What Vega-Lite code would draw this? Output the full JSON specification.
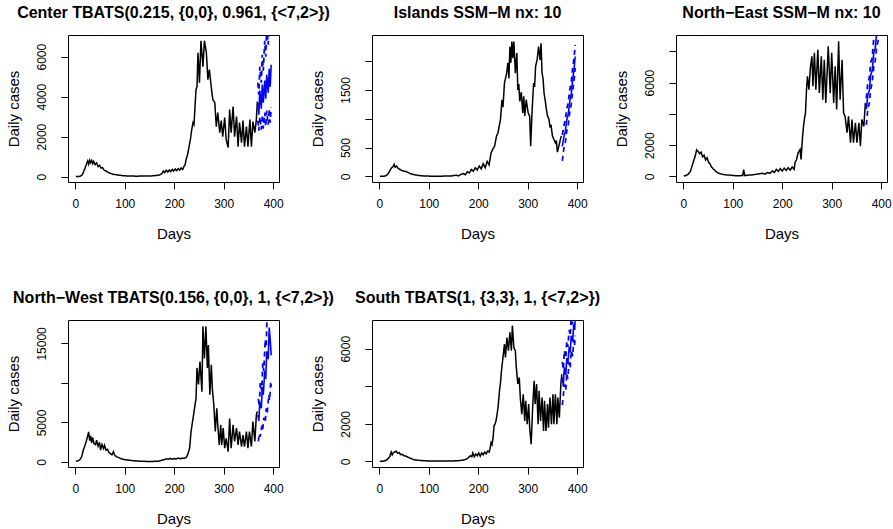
{
"$schema": "https://vega.github.io/schema/vega-lite/v6.json",
"padding": {"left": 5, "top": 4, "right": 0, "bottom": 0},
"columns": 3,
"spacing": {"row": 138, "column": 93},
"bounds": "flush",
"concat": [
{
"title": "Center TBATS(0.215, {0,0}, 0.961, {<7,2>})",
"width": 211, "height": 147,
"data": {"values": [
{"d":1,"v":0,"s":"o"},{"d":6,"v":5,"s":"o"},{"d":10,"v":20,"s":"o"},{"d":14,"v":90,"s":"o"},{"d":17,"v":250,"s":"o"},{"d":20,"v":450,"s":"o"},{"d":23,"v":650,"s":"o"},{"d":25,"v":780,"s":"o"},{"d":27,"v":620,"s":"o"},{"d":29,"v":820,"s":"o"},{"d":31,"v":700,"s":"o"},{"d":33,"v":800,"s":"o"},{"d":35,"v":650,"s":"o"},{"d":37,"v":760,"s":"o"},{"d":40,"v":600,"s":"o"},{"d":43,"v":680,"s":"o"},{"d":46,"v":500,"s":"o"},{"d":49,"v":560,"s":"o"},{"d":52,"v":420,"s":"o"},{"d":55,"v":450,"s":"o"},{"d":58,"v":330,"s":"o"},{"d":62,"v":280,"s":"o"},{"d":66,"v":220,"s":"o"},{"d":70,"v":170,"s":"o"},{"d":75,"v":130,"s":"o"},{"d":80,"v":100,"s":"o"},{"d":88,"v":70,"s":"o"},{"d":96,"v":45,"s":"o"},{"d":105,"v":30,"s":"o"},{"d":115,"v":25,"s":"o"},{"d":125,"v":20,"s":"o"},{"d":135,"v":25,"s":"o"},{"d":145,"v":30,"s":"o"},{"d":155,"v":35,"s":"o"},{"d":163,"v":50,"s":"o"},{"d":170,"v":80,"s":"o"},{"d":175,"v":150,"s":"o"},{"d":178,"v":280,"s":"o"},{"d":181,"v":200,"s":"o"},{"d":184,"v":320,"s":"o"},{"d":187,"v":230,"s":"o"},{"d":190,"v":330,"s":"o"},{"d":193,"v":250,"s":"o"},{"d":196,"v":360,"s":"o"},{"d":199,"v":280,"s":"o"},{"d":202,"v":380,"s":"o"},{"d":205,"v":300,"s":"o"},{"d":208,"v":400,"s":"o"},{"d":211,"v":320,"s":"o"},{"d":214,"v":430,"s":"o"},{"d":217,"v":360,"s":"o"},{"d":220,"v":520,"s":"o"},{"d":222,"v":600,"s":"o"},{"d":224,"v":850,"s":"o"},{"d":227,"v":1100,"s":"o"},{"d":230,"v":1500,"s":"o"},{"d":233,"v":1900,"s":"o"},{"d":235,"v":2300,"s":"o"},{"d":238,"v":2700,"s":"o"},{"d":240,"v":2600,"s":"o"},{"d":242,"v":3500,"s":"o"},{"d":244,"v":4350,"s":"o"},{"d":246,"v":4500,"s":"o"},{"d":248,"v":6200,"s":"o"},{"d":251,"v":4700,"s":"o"},{"d":254,"v":6800,"s":"o"},{"d":258,"v":5500,"s":"o"},{"d":261,"v":6800,"s":"o"},{"d":265,"v":6200,"s":"o"},{"d":268,"v":4850,"s":"o"},{"d":271,"v":5350,"s":"o"},{"d":275,"v":4450,"s":"o"},{"d":278,"v":3850,"s":"o"},{"d":282,"v":3700,"s":"o"},{"d":285,"v":2500,"s":"o"},{"d":288,"v":3200,"s":"o"},{"d":292,"v":2200,"s":"o"},{"d":295,"v":2800,"s":"o"},{"d":298,"v":2000,"s":"o"},{"d":302,"v":2950,"s":"o"},{"d":305,"v":1850,"s":"o"},{"d":309,"v":1450,"s":"o"},{"d":312,"v":3350,"s":"o"},{"d":315,"v":2200,"s":"o"},{"d":319,"v":3500,"s":"o"},{"d":322,"v":2000,"s":"o"},{"d":326,"v":3000,"s":"o"},{"d":329,"v":1500,"s":"o"},{"d":332,"v":2700,"s":"o"},{"d":336,"v":1700,"s":"o"},{"d":339,"v":2800,"s":"o"},{"d":342,"v":1500,"s":"o"},{"d":346,"v":2500,"s":"o"},{"d":349,"v":1500,"s":"o"},{"d":353,"v":2850,"s":"o"},{"d":356,"v":1500,"s":"o"},{"d":359,"v":2750,"s":"o"},{"d":363,"v":2200,"s":"o"},{"d":366,"v":2850,"s":"o"},{"d":368,"v":3750,"s":"o"},
{"d":369,"v":3700,"s":"m"},{"d":371,"v":3100,"s":"m"},{"d":373,"v":4300,"s":"m"},{"d":376,"v":3400,"s":"m"},{"d":378,"v":4600,"s":"m"},{"d":380,"v":3700,"s":"m"},{"d":383,"v":4800,"s":"m"},{"d":385,"v":3900,"s":"m"},{"d":387,"v":5100,"s":"m"},{"d":390,"v":4200,"s":"m"},{"d":392,"v":5400,"s":"m"},{"d":394,"v":4500,"s":"m"},{"d":396,"v":5600,"s":"m"},
{"d":369,"v":2800,"s":"l"},{"d":371,"v":2300,"s":"l"},{"d":373,"v":3000,"s":"l"},{"d":376,"v":2350,"s":"l"},{"d":378,"v":3100,"s":"l"},{"d":380,"v":2400,"s":"l"},{"d":383,"v":3200,"s":"l"},{"d":385,"v":2500,"s":"l"},{"d":387,"v":3300,"s":"l"},{"d":390,"v":2600,"s":"l"},{"d":392,"v":3400,"s":"l"},{"d":394,"v":2700,"s":"l"},{"d":396,"v":3450,"s":"l"},
{"d":369,"v":4700,"s":"u"},{"d":371,"v":4100,"s":"u"},{"d":373,"v":5500,"s":"u"},{"d":376,"v":4700,"s":"u"},{"d":378,"v":6100,"s":"u"},{"d":380,"v":5300,"s":"u"},{"d":383,"v":6800,"s":"u"},{"d":385,"v":6000,"s":"u"},{"d":387,"v":7400,"s":"u"},{"d":390,"v":6600,"s":"u"},{"d":392,"v":8000,"s":"u"},{"d":394,"v":7200,"s":"u"},{"d":396,"v":8600,"s":"u"}
]},
"mark": {"type": "line", "clip": true},
"encoding": {
"x": {"field": "d", "type": "quantitative", "scale": {"domain": [-14.8, 411.8], "nice": false, "zero": false}, "axis": {"values": [0,100,200,300,400], "title": "Days"}},
"y": {"field": "v", "type": "quantitative", "scale": {"domain": [-272, 7085], "nice": false, "zero": false}, "axis": {"values": [0,2000,4000,6000], "title": "Daily cases"}},
"color": {"field": "s", "type": "nominal", "scale": {"domain": ["o","m","l","u"], "range": ["#000000","#0000ff","#0000ff","#0000ff"]}, "legend": null},
"strokeDash": {"field": "s", "type": "nominal", "scale": {"domain": ["o","m","l","u"], "range": [[1,0],[1,0],[5,4],[5,4]]}, "legend": null},
"strokeWidth": {"field": "s", "type": "nominal", "scale": {"domain": ["o","m","l","u"], "range": [1.5,1.8,1.8,1.8]}, "legend": null}
}
},
{
"title": "Islands SSM−M nx: 10",
"width": 211, "height": 147,
"data": {"values": [
{"d":1,"v":0,"s":"o"},{"d":8,"v":2,"s":"o"},{"d":14,"v":15,"s":"o"},{"d":18,"v":50,"s":"o"},{"d":22,"v":110,"s":"o"},{"d":25,"v":150,"s":"o"},{"d":28,"v":170,"s":"o"},{"d":30,"v":210,"s":"o"},{"d":32,"v":160,"s":"o"},{"d":35,"v":180,"s":"o"},{"d":38,"v":140,"s":"o"},{"d":42,"v":120,"s":"o"},{"d":46,"v":100,"s":"o"},{"d":50,"v":90,"s":"o"},{"d":54,"v":85,"s":"o"},{"d":58,"v":70,"s":"o"},{"d":63,"v":45,"s":"o"},{"d":70,"v":30,"s":"o"},{"d":80,"v":15,"s":"o"},{"d":90,"v":8,"s":"o"},{"d":100,"v":5,"s":"o"},{"d":115,"v":3,"s":"o"},{"d":130,"v":5,"s":"o"},{"d":145,"v":8,"s":"o"},{"d":155,"v":20,"s":"o"},{"d":160,"v":10,"s":"o"},{"d":165,"v":35,"s":"o"},{"d":170,"v":50,"s":"o"},{"d":174,"v":30,"s":"o"},{"d":178,"v":80,"s":"o"},{"d":182,"v":60,"s":"o"},{"d":186,"v":120,"s":"o"},{"d":190,"v":90,"s":"o"},{"d":194,"v":150,"s":"o"},{"d":198,"v":110,"s":"o"},{"d":202,"v":180,"s":"o"},{"d":206,"v":130,"s":"o"},{"d":210,"v":220,"s":"o"},{"d":214,"v":150,"s":"o"},{"d":218,"v":260,"s":"o"},{"d":222,"v":200,"s":"o"},{"d":226,"v":410,"s":"o"},{"d":230,"v":480,"s":"o"},{"d":233,"v":525,"s":"o"},{"d":237,"v":700,"s":"o"},{"d":240,"v":760,"s":"o"},{"d":243,"v":900,"s":"o"},{"d":245,"v":990,"s":"o"},{"d":248,"v":1330,"s":"o"},{"d":250,"v":1200,"s":"o"},{"d":253,"v":1620,"s":"o"},{"d":257,"v":1770,"s":"o"},{"d":260,"v":1970,"s":"o"},{"d":262,"v":1700,"s":"o"},{"d":264,"v":2250,"s":"o"},{"d":266,"v":1970,"s":"o"},{"d":268,"v":2340,"s":"o"},{"d":270,"v":2050,"s":"o"},{"d":272,"v":2340,"s":"o"},{"d":275,"v":1790,"s":"o"},{"d":278,"v":2140,"s":"o"},{"d":280,"v":1500,"s":"o"},{"d":282,"v":1600,"s":"o"},{"d":284,"v":1300,"s":"o"},{"d":287,"v":1460,"s":"o"},{"d":290,"v":1100,"s":"o"},{"d":292,"v":1390,"s":"o"},{"d":294,"v":1050,"s":"o"},{"d":297,"v":1330,"s":"o"},{"d":301,"v":1100,"s":"o"},{"d":304,"v":1040,"s":"o"},{"d":306,"v":525,"s":"o"},{"d":309,"v":1160,"s":"o"},{"d":312,"v":1620,"s":"o"},{"d":314,"v":1550,"s":"o"},{"d":316,"v":1910,"s":"o"},{"d":319,"v":2020,"s":"o"},{"d":322,"v":2250,"s":"o"},{"d":325,"v":2020,"s":"o"},{"d":327,"v":2310,"s":"o"},{"d":329,"v":1790,"s":"o"},{"d":331,"v":1700,"s":"o"},{"d":333,"v":1450,"s":"o"},{"d":336,"v":1280,"s":"o"},{"d":338,"v":1150,"s":"o"},{"d":340,"v":1050,"s":"o"},{"d":343,"v":990,"s":"o"},{"d":345,"v":850,"s":"o"},{"d":347,"v":900,"s":"o"},{"d":350,"v":700,"s":"o"},{"d":353,"v":640,"s":"o"},{"d":356,"v":580,"s":"o"},{"d":358,"v":620,"s":"o"},{"d":360,"v":420,"s":"o"},{"d":363,"v":525,"s":"o"},{"d":366,"v":640,"s":"o"},{"d":368,"v":700,"s":"o"},
{"d":370,"v":520,"s":"m"},{"d":373,"v":680,"s":"m"},{"d":376,"v":780,"s":"m"},{"d":379,"v":980,"s":"m"},{"d":382,"v":1080,"s":"m"},{"d":385,"v":1300,"s":"m"},{"d":388,"v":1430,"s":"m"},{"d":391,"v":1680,"s":"m"},{"d":394,"v":1880,"s":"m"},{"d":396,"v":2080,"s":"m"},
{"d":370,"v":270,"s":"l"},{"d":373,"v":480,"s":"l"},{"d":376,"v":580,"s":"l"},{"d":379,"v":790,"s":"l"},{"d":382,"v":890,"s":"l"},{"d":385,"v":1110,"s":"l"},{"d":388,"v":1240,"s":"l"},{"d":391,"v":1490,"s":"l"},{"d":394,"v":1680,"s":"l"},{"d":396,"v":1880,"s":"l"},
{"d":370,"v":720,"s":"u"},{"d":373,"v":870,"s":"u"},{"d":376,"v":980,"s":"u"},{"d":379,"v":1170,"s":"u"},{"d":382,"v":1280,"s":"u"},{"d":385,"v":1500,"s":"u"},{"d":388,"v":1630,"s":"u"},{"d":391,"v":1880,"s":"u"},{"d":394,"v":2080,"s":"u"},{"d":396,"v":2280,"s":"u"}
]},
"mark": {"type": "line", "clip": true},
"encoding": {
"x": {"field": "d", "type": "quantitative", "scale": {"domain": [-14.8, 411.8], "nice": false, "zero": false}, "axis": {"values": [0,100,200,300,400], "title": "Days"}},
"y": {"field": "v", "type": "quantitative", "scale": {"domain": [-97, 2452], "nice": false, "zero": false}, "axis": {"values": [0,500,1000,1500,2000], "title": "Daily cases", "labelExpr": "datum.value == 1000 || datum.value == 2000 ? '' : datum.label"}},
"color": {"field": "s", "type": "nominal", "scale": {"domain": ["o","m","l","u"], "range": ["#000000","#0000ff","#0000ff","#0000ff"]}, "legend": null},
"strokeDash": {"field": "s", "type": "nominal", "scale": {"domain": ["o","m","l","u"], "range": [[1,0],[1,0],[5,4],[5,4]]}, "legend": null},
"strokeWidth": {"field": "s", "type": "nominal", "scale": {"domain": ["o","m","l","u"], "range": [1.5,1.8,1.8,1.8]}, "legend": null}
}
},
{
"title": "North−East SSM−M nx: 10",
"width": 211, "height": 147,
"data": {"values": [
{"d":1,"v":30,"s":"o"},{"d":6,"v":60,"s":"o"},{"d":10,"v":150,"s":"o"},{"d":14,"v":300,"s":"o"},{"d":18,"v":700,"s":"o"},{"d":21,"v":1000,"s":"o"},{"d":24,"v":1300,"s":"o"},{"d":27,"v":1700,"s":"o"},{"d":30,"v":1600,"s":"o"},{"d":33,"v":1450,"s":"o"},{"d":36,"v":1550,"s":"o"},{"d":39,"v":1250,"s":"o"},{"d":42,"v":1350,"s":"o"},{"d":45,"v":1050,"s":"o"},{"d":48,"v":1200,"s":"o"},{"d":51,"v":900,"s":"o"},{"d":54,"v":800,"s":"o"},{"d":57,"v":600,"s":"o"},{"d":60,"v":500,"s":"o"},{"d":64,"v":380,"s":"o"},{"d":68,"v":260,"s":"o"},{"d":72,"v":200,"s":"o"},{"d":78,"v":140,"s":"o"},{"d":85,"v":100,"s":"o"},{"d":95,"v":80,"s":"o"},{"d":105,"v":50,"s":"o"},{"d":115,"v":40,"s":"o"},{"d":120,"v":60,"s":"o"},{"d":122,"v":430,"s":"o"},{"d":124,"v":50,"s":"o"},{"d":130,"v":80,"s":"o"},{"d":140,"v":100,"s":"o"},{"d":150,"v":150,"s":"o"},{"d":160,"v":200,"s":"o"},{"d":165,"v":150,"s":"o"},{"d":170,"v":250,"s":"o"},{"d":175,"v":200,"s":"o"},{"d":180,"v":350,"s":"o"},{"d":184,"v":250,"s":"o"},{"d":188,"v":450,"s":"o"},{"d":192,"v":320,"s":"o"},{"d":196,"v":500,"s":"o"},{"d":200,"v":350,"s":"o"},{"d":204,"v":520,"s":"o"},{"d":208,"v":380,"s":"o"},{"d":212,"v":560,"s":"o"},{"d":216,"v":400,"s":"o"},{"d":220,"v":600,"s":"o"},{"d":224,"v":450,"s":"o"},{"d":226,"v":900,"s":"o"},{"d":229,"v":1085,"s":"o"},{"d":232,"v":1500,"s":"o"},{"d":236,"v":1720,"s":"o"},{"d":238,"v":1085,"s":"o"},{"d":241,"v":2500,"s":"o"},{"d":243,"v":3200,"s":"o"},{"d":245,"v":3700,"s":"o"},{"d":247,"v":4060,"s":"o"},{"d":249,"v":5500,"s":"o"},{"d":251,"v":6400,"s":"o"},{"d":254,"v":5550,"s":"o"},{"d":257,"v":7000,"s":"o"},{"d":260,"v":7680,"s":"o"},{"d":262,"v":5770,"s":"o"},{"d":265,"v":7900,"s":"o"},{"d":268,"v":5550,"s":"o"},{"d":272,"v":8100,"s":"o"},{"d":275,"v":5340,"s":"o"},{"d":279,"v":7680,"s":"o"},{"d":282,"v":4900,"s":"o"},{"d":285,"v":7460,"s":"o"},{"d":288,"v":4700,"s":"o"},{"d":293,"v":8320,"s":"o"},{"d":297,"v":5340,"s":"o"},{"d":300,"v":7900,"s":"o"},{"d":304,"v":4700,"s":"o"},{"d":307,"v":7040,"s":"o"},{"d":310,"v":4280,"s":"o"},{"d":314,"v":8640,"s":"o"},{"d":317,"v":4900,"s":"o"},{"d":321,"v":7460,"s":"o"},{"d":324,"v":4060,"s":"o"},{"d":327,"v":3850,"s":"o"},{"d":331,"v":2790,"s":"o"},{"d":334,"v":3850,"s":"o"},{"d":338,"v":2150,"s":"o"},{"d":341,"v":3640,"s":"o"},{"d":344,"v":2150,"s":"o"},{"d":348,"v":3430,"s":"o"},{"d":351,"v":2150,"s":"o"},{"d":355,"v":3430,"s":"o"},{"d":358,"v":1940,"s":"o"},{"d":361,"v":3640,"s":"o"},{"d":365,"v":3200,"s":"o"},{"d":368,"v":4700,"s":"o"},
{"d":370,"v":4300,"s":"m"},{"d":373,"v":5200,"s":"m"},{"d":376,"v":5500,"s":"m"},{"d":379,"v":6500,"s":"m"},{"d":382,"v":6800,"s":"m"},{"d":385,"v":7900,"s":"m"},{"d":388,"v":8200,"s":"m"},{"d":391,"v":9200,"s":"m"},{"d":394,"v":9500,"s":"m"},{"d":396,"v":10200,"s":"m"},
{"d":370,"v":3300,"s":"l"},{"d":373,"v":4300,"s":"l"},{"d":376,"v":4700,"s":"l"},{"d":379,"v":5600,"s":"l"},{"d":382,"v":6000,"s":"l"},{"d":385,"v":7000,"s":"l"},{"d":388,"v":7400,"s":"l"},{"d":391,"v":8300,"s":"l"},{"d":394,"v":8700,"s":"l"},{"d":396,"v":9300,"s":"l"},
{"d":370,"v":5000,"s":"u"},{"d":373,"v":6000,"s":"u"},{"d":376,"v":6300,"s":"u"},{"d":379,"v":7300,"s":"u"},{"d":382,"v":7600,"s":"u"},{"d":385,"v":8800,"s":"u"},{"d":388,"v":9100,"s":"u"},{"d":391,"v":10200,"s":"u"},{"d":394,"v":10500,"s":"u"},{"d":396,"v":11200,"s":"u"}
]},
"mark": {"type": "line", "clip": true},
"encoding": {
"x": {"field": "d", "type": "quantitative", "scale": {"domain": [-14.8, 411.8], "nice": false, "zero": false}, "axis": {"values": [0,100,200,300,400], "title": "Days"}},
"y": {"field": "v", "type": "quantitative", "scale": {"domain": [-357, 9043], "nice": false, "zero": false}, "axis": {"values": [0,2000,4000,6000,8000], "title": "Daily cases", "labelExpr": "datum.value == 4000 || datum.value == 8000 ? '' : datum.label"}},
"color": {"field": "s", "type": "nominal", "scale": {"domain": ["o","m","l","u"], "range": ["#000000","#0000ff","#0000ff","#0000ff"]}, "legend": null},
"strokeDash": {"field": "s", "type": "nominal", "scale": {"domain": ["o","m","l","u"], "range": [[1,0],[1,0],[5,4],[5,4]]}, "legend": null},
"strokeWidth": {"field": "s", "type": "nominal", "scale": {"domain": ["o","m","l","u"], "range": [1.5,1.8,1.8,1.8]}, "legend": null}
}
},
{
"title": "North−West TBATS(0.156, {0,0}, 1, {<7,2>})",
"width": 211, "height": 147,
"data": {"values": [
{"d":1,"v":100,"s":"o"},{"d":6,"v":150,"s":"o"},{"d":10,"v":350,"s":"o"},{"d":13,"v":700,"s":"o"},{"d":16,"v":1500,"s":"o"},{"d":19,"v":2000,"s":"o"},{"d":22,"v":2600,"s":"o"},{"d":25,"v":3300,"s":"o"},{"d":27,"v":3800,"s":"o"},{"d":29,"v":2700,"s":"o"},{"d":31,"v":3300,"s":"o"},{"d":33,"v":2400,"s":"o"},{"d":35,"v":3100,"s":"o"},{"d":38,"v":2300,"s":"o"},{"d":41,"v":2200,"s":"o"},{"d":43,"v":2750,"s":"o"},{"d":46,"v":2000,"s":"o"},{"d":49,"v":2500,"s":"o"},{"d":51,"v":1500,"s":"o"},{"d":54,"v":2200,"s":"o"},{"d":57,"v":1700,"s":"o"},{"d":59,"v":2100,"s":"o"},{"d":62,"v":1500,"s":"o"},{"d":65,"v":1600,"s":"o"},{"d":68,"v":1200,"s":"o"},{"d":71,"v":1050,"s":"o"},{"d":74,"v":900,"s":"o"},{"d":77,"v":1300,"s":"o"},{"d":80,"v":800,"s":"o"},{"d":84,"v":650,"s":"o"},{"d":88,"v":550,"s":"o"},{"d":93,"v":400,"s":"o"},{"d":99,"v":300,"s":"o"},{"d":105,"v":250,"s":"o"},{"d":112,"v":200,"s":"o"},{"d":120,"v":150,"s":"o"},{"d":130,"v":100,"s":"o"},{"d":140,"v":80,"s":"o"},{"d":150,"v":60,"s":"o"},{"d":160,"v":80,"s":"o"},{"d":170,"v":120,"s":"o"},{"d":176,"v":250,"s":"o"},{"d":180,"v":300,"s":"o"},{"d":184,"v":400,"s":"o"},{"d":188,"v":350,"s":"o"},{"d":192,"v":450,"s":"o"},{"d":196,"v":350,"s":"o"},{"d":200,"v":450,"s":"o"},{"d":204,"v":380,"s":"o"},{"d":208,"v":500,"s":"o"},{"d":212,"v":400,"s":"o"},{"d":216,"v":500,"s":"o"},{"d":220,"v":450,"s":"o"},{"d":224,"v":550,"s":"o"},{"d":227,"v":900,"s":"o"},{"d":231,"v":1740,"s":"o"},{"d":234,"v":3850,"s":"o"},{"d":237,"v":5100,"s":"o"},{"d":241,"v":6800,"s":"o"},{"d":244,"v":8000,"s":"o"},{"d":246,"v":11900,"s":"o"},{"d":249,"v":9800,"s":"o"},{"d":252,"v":12700,"s":"o"},{"d":256,"v":8900,"s":"o"},{"d":258,"v":17150,"s":"o"},{"d":261,"v":13100,"s":"o"},{"d":264,"v":17150,"s":"o"},{"d":267,"v":11900,"s":"o"},{"d":269,"v":14800,"s":"o"},{"d":272,"v":8500,"s":"o"},{"d":275,"v":12300,"s":"o"},{"d":277,"v":9300,"s":"o"},{"d":280,"v":7200,"s":"o"},{"d":283,"v":3850,"s":"o"},{"d":286,"v":6800,"s":"o"},{"d":288,"v":4700,"s":"o"},{"d":291,"v":2160,"s":"o"},{"d":294,"v":4700,"s":"o"},{"d":296,"v":2160,"s":"o"},{"d":299,"v":4300,"s":"o"},{"d":302,"v":1740,"s":"o"},{"d":305,"v":3000,"s":"o"},{"d":309,"v":1300,"s":"o"},{"d":312,"v":5500,"s":"o"},{"d":315,"v":1740,"s":"o"},{"d":319,"v":4700,"s":"o"},{"d":322,"v":2600,"s":"o"},{"d":326,"v":4300,"s":"o"},{"d":329,"v":2160,"s":"o"},{"d":332,"v":3850,"s":"o"},{"d":336,"v":1950,"s":"o"},{"d":339,"v":3400,"s":"o"},{"d":342,"v":1950,"s":"o"},{"d":346,"v":3850,"s":"o"},{"d":349,"v":1750,"s":"o"},{"d":352,"v":3850,"s":"o"},{"d":356,"v":1950,"s":"o"},{"d":359,"v":5100,"s":"o"},{"d":363,"v":2600,"s":"o"},{"d":366,"v":5950,"s":"o"},{"d":368,"v":6400,"s":"o"},
{"d":369,"v":6000,"s":"m"},{"d":371,"v":5200,"s":"m"},{"d":373,"v":7500,"s":"m"},{"d":376,"v":6800,"s":"m"},{"d":378,"v":9500,"s":"m"},{"d":380,"v":8500,"s":"m"},{"d":383,"v":11500,"s":"m"},{"d":385,"v":10500,"s":"m"},{"d":387,"v":14000,"s":"m"},{"d":390,"v":13000,"s":"m"},{"d":392,"v":17000,"s":"m"},{"d":394,"v":15500,"s":"m"},{"d":396,"v":13500,"s":"m"},
{"d":370,"v":2600,"s":"l"},{"d":372,"v":3600,"s":"l"},{"d":374,"v":3200,"s":"l"},{"d":377,"v":4600,"s":"l"},{"d":379,"v":4100,"s":"l"},{"d":381,"v":5600,"s":"l"},{"d":384,"v":5000,"s":"l"},{"d":386,"v":6800,"s":"l"},{"d":388,"v":6200,"s":"l"},{"d":391,"v":8500,"s":"l"},{"d":393,"v":7800,"s":"l"},{"d":395,"v":10200,"s":"l"},{"d":396,"v":9500,"s":"l"},
{"d":370,"v":8000,"s":"u"},{"d":372,"v":7000,"s":"u"},{"d":374,"v":10000,"s":"u"},{"d":377,"v":9000,"s":"u"},{"d":379,"v":12500,"s":"u"},{"d":381,"v":11500,"s":"u"},{"d":384,"v":15500,"s":"u"},{"d":386,"v":14500,"s":"u"},{"d":388,"v":19500,"s":"u"},{"d":391,"v":18500,"s":"u"},{"d":393,"v":23000,"s":"u"},{"d":395,"v":22000,"s":"u"}
]},
"mark": {"type": "line", "clip": true},
"encoding": {
"x": {"field": "d", "type": "quantitative", "scale": {"domain": [-14.8, 411.8], "nice": false, "zero": false}, "axis": {"values": [0,100,200,300,400], "title": "Days"}},
"y": {"field": "v", "type": "quantitative", "scale": {"domain": [-634, 17960], "nice": false, "zero": false}, "axis": {"values": [0,5000,10000,15000], "title": "Daily cases", "labelExpr": "datum.value == 10000 ? '' : datum.label"}},
"color": {"field": "s", "type": "nominal", "scale": {"domain": ["o","m","l","u"], "range": ["#000000","#0000ff","#0000ff","#0000ff"]}, "legend": null},
"strokeDash": {"field": "s", "type": "nominal", "scale": {"domain": ["o","m","l","u"], "range": [[1,0],[1,0],[5,4],[5,4]]}, "legend": null},
"strokeWidth": {"field": "s", "type": "nominal", "scale": {"domain": ["o","m","l","u"], "range": [1.5,1.8,1.8,1.8]}, "legend": null}
}
},
{
"title": "South TBATS(1, {3,3}, 1, {<7,2>})",
"width": 211, "height": 147,
"data": {"values": [
{"d":1,"v":0,"s":"o"},{"d":8,"v":10,"s":"o"},{"d":14,"v":60,"s":"o"},{"d":18,"v":150,"s":"o"},{"d":21,"v":250,"s":"o"},{"d":24,"v":500,"s":"o"},{"d":26,"v":350,"s":"o"},{"d":28,"v":450,"s":"o"},{"d":31,"v":500,"s":"o"},{"d":34,"v":540,"s":"o"},{"d":37,"v":430,"s":"o"},{"d":40,"v":470,"s":"o"},{"d":43,"v":360,"s":"o"},{"d":46,"v":380,"s":"o"},{"d":50,"v":300,"s":"o"},{"d":54,"v":280,"s":"o"},{"d":58,"v":220,"s":"o"},{"d":62,"v":180,"s":"o"},{"d":66,"v":130,"s":"o"},{"d":70,"v":90,"s":"o"},{"d":78,"v":60,"s":"o"},{"d":88,"v":40,"s":"o"},{"d":100,"v":20,"s":"o"},{"d":115,"v":15,"s":"o"},{"d":130,"v":15,"s":"o"},{"d":145,"v":20,"s":"o"},{"d":160,"v":40,"s":"o"},{"d":170,"v":70,"s":"o"},{"d":176,"v":120,"s":"o"},{"d":180,"v":200,"s":"o"},{"d":184,"v":300,"s":"o"},{"d":187,"v":250,"s":"o"},{"d":189,"v":450,"s":"o"},{"d":192,"v":250,"s":"o"},{"d":195,"v":400,"s":"o"},{"d":198,"v":300,"s":"o"},{"d":201,"v":450,"s":"o"},{"d":204,"v":280,"s":"o"},{"d":207,"v":450,"s":"o"},{"d":210,"v":350,"s":"o"},{"d":213,"v":500,"s":"o"},{"d":216,"v":400,"s":"o"},{"d":219,"v":550,"s":"o"},{"d":222,"v":500,"s":"o"},{"d":224,"v":700,"s":"o"},{"d":226,"v":1000,"s":"o"},{"d":228,"v":900,"s":"o"},{"d":230,"v":1270,"s":"o"},{"d":232,"v":1900,"s":"o"},{"d":234,"v":2000,"s":"o"},{"d":236,"v":2160,"s":"o"},{"d":238,"v":2500,"s":"o"},{"d":240,"v":2870,"s":"o"},{"d":243,"v":3760,"s":"o"},{"d":245,"v":4200,"s":"o"},{"d":247,"v":4830,"s":"o"},{"d":250,"v":5540,"s":"o"},{"d":253,"v":6250,"s":"o"},{"d":255,"v":5540,"s":"o"},{"d":258,"v":6600,"s":"o"},{"d":261,"v":5900,"s":"o"},{"d":264,"v":6880,"s":"o"},{"d":267,"v":5900,"s":"o"},{"d":269,"v":7230,"s":"o"},{"d":272,"v":6070,"s":"o"},{"d":275,"v":5900,"s":"o"},{"d":277,"v":5000,"s":"o"},{"d":280,"v":4120,"s":"o"},{"d":283,"v":4470,"s":"o"},{"d":285,"v":3400,"s":"o"},{"d":288,"v":2510,"s":"o"},{"d":291,"v":3580,"s":"o"},{"d":294,"v":2160,"s":"o"},{"d":296,"v":3230,"s":"o"},{"d":299,"v":1980,"s":"o"},{"d":302,"v":3050,"s":"o"},{"d":304,"v":1800,"s":"o"},{"d":307,"v":910,"s":"o"},{"d":310,"v":2870,"s":"o"},{"d":313,"v":4290,"s":"o"},{"d":315,"v":3050,"s":"o"},{"d":318,"v":4120,"s":"o"},{"d":321,"v":1980,"s":"o"},{"d":323,"v":3760,"s":"o"},{"d":326,"v":2160,"s":"o"},{"d":329,"v":3400,"s":"o"},{"d":332,"v":1620,"s":"o"},{"d":334,"v":3230,"s":"o"},{"d":337,"v":1620,"s":"o"},{"d":340,"v":3050,"s":"o"},{"d":342,"v":1800,"s":"o"},{"d":345,"v":3400,"s":"o"},{"d":348,"v":1980,"s":"o"},{"d":351,"v":3580,"s":"o"},{"d":353,"v":1980,"s":"o"},{"d":356,"v":3580,"s":"o"},{"d":359,"v":1980,"s":"o"},{"d":361,"v":3400,"s":"o"},{"d":364,"v":2330,"s":"o"},{"d":367,"v":4120,"s":"o"},{"d":369,"v":4650,"s":"o"},
{"d":370,"v":4500,"s":"m"},{"d":372,"v":4000,"s":"m"},{"d":374,"v":5000,"s":"m"},{"d":377,"v":4600,"s":"m"},{"d":379,"v":5500,"s":"m"},{"d":381,"v":5200,"s":"m"},{"d":384,"v":6100,"s":"m"},{"d":386,"v":5800,"s":"m"},{"d":388,"v":6700,"s":"m"},{"d":391,"v":6400,"s":"m"},{"d":393,"v":7300,"s":"m"},{"d":395,"v":7000,"s":"m"},{"d":396,"v":7600,"s":"m"},
{"d":370,"v":3000,"s":"l"},{"d":372,"v":3500,"s":"l"},{"d":374,"v":4100,"s":"l"},{"d":377,"v":3800,"s":"l"},{"d":379,"v":4700,"s":"l"},{"d":381,"v":4400,"s":"l"},{"d":384,"v":5300,"s":"l"},{"d":386,"v":5000,"s":"l"},{"d":388,"v":5900,"s":"l"},{"d":391,"v":5600,"s":"l"},{"d":393,"v":6500,"s":"l"},{"d":395,"v":6200,"s":"l"},{"d":396,"v":6700,"s":"l"},
{"d":370,"v":5300,"s":"u"},{"d":372,"v":4900,"s":"u"},{"d":374,"v":5900,"s":"u"},{"d":377,"v":5500,"s":"u"},{"d":379,"v":6400,"s":"u"},{"d":381,"v":6100,"s":"u"},{"d":384,"v":7000,"s":"u"},{"d":386,"v":6700,"s":"u"},{"d":388,"v":7600,"s":"u"},{"d":391,"v":7300,"s":"u"},{"d":393,"v":8200,"s":"u"},{"d":395,"v":7900,"s":"u"},{"d":396,"v":8400,"s":"u"}
]},
"mark": {"type": "line", "clip": true},
"encoding": {
"x": {"field": "d", "type": "quantitative", "scale": {"domain": [-14.8, 411.8], "nice": false, "zero": false}, "axis": {"values": [0,100,200,300,400], "title": "Days"}},
"y": {"field": "v", "type": "quantitative", "scale": {"domain": [-299, 7532], "nice": false, "zero": false}, "axis": {"values": [0,2000,4000,6000], "title": "Daily cases", "labelExpr": "datum.value == 4000 ? '' : datum.label"}},
"color": {"field": "s", "type": "nominal", "scale": {"domain": ["o","m","l","u"], "range": ["#000000","#0000ff","#0000ff","#0000ff"]}, "legend": null},
"strokeDash": {"field": "s", "type": "nominal", "scale": {"domain": ["o","m","l","u"], "range": [[1,0],[1,0],[5,4],[5,4]]}, "legend": null},
"strokeWidth": {"field": "s", "type": "nominal", "scale": {"domain": ["o","m","l","u"], "range": [1.5,1.8,1.8,1.8]}, "legend": null}
}
}
],
"config": {
"font": "Liberation Sans",
"numberFormat": "d",
"background": "#ffffff",
"view": {"stroke": "#000000", "strokeWidth": 1},
"axis": {"domain": false, "grid": false, "ticks": true, "tickColor": "#000000", "tickSize": 7, "tickWidth": 1, "labelFont": "Liberation Sans", "labelFontSize": 12, "labelColor": "#000000", "titleFont": "Liberation Sans", "titleFontSize": 15, "titleFontWeight": "normal", "titleColor": "#000000", "labelOverlap": false, "labelFlush": false, "labelBound": false},
"axisX": {"labelPadding": 9.4, "titlePadding": 17.3},
"axisY": {"labelAngle": -90, "labelAlign": "center", "labelBaseline": "bottom", "labelPadding": 12.7, "titlePadding": 14},
"title": {"font": "Liberation Sans", "fontSize": 16, "fontWeight": "bold", "color": "#000000", "anchor": "middle", "offset": 14, "baseline": "bottom"}
}
}
